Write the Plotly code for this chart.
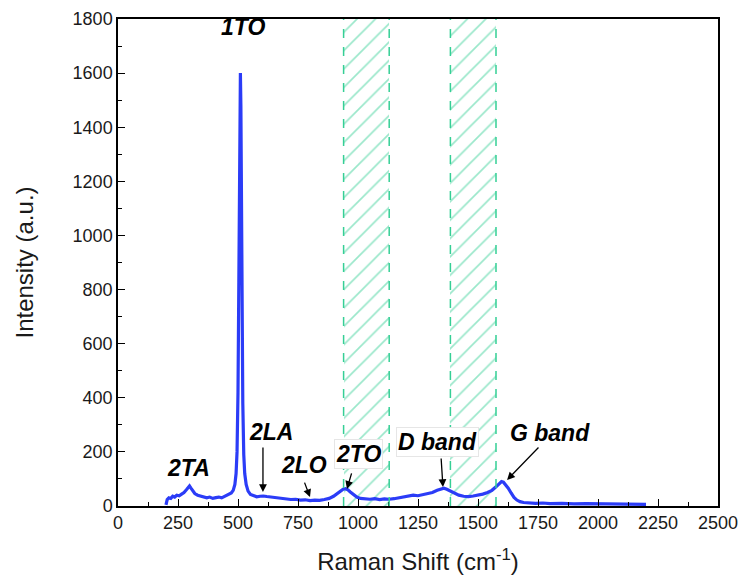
import plotly.graph_objects as go

# Spectrum values
raman_shift = [200, 205, 212, 220, 228, 236, 245, 255, 265, 275, 285, 292, 298, 304, 312, 320, 332, 345, 358, 370,
               382, 395, 408, 420, 432, 444, 455, 464, 472, 480, 487, 492, 496, 500, 503, 506, 508, 510, 512, 514,
               517, 520, 524, 528, 534, 542, 552, 565, 578, 592, 605, 620, 640, 660, 680, 700, 720, 740, 760, 780,
               800, 820, 840, 860, 880, 898, 912, 926, 938, 948, 958, 968, 980, 995, 1010, 1030, 1050, 1070, 1090, 1110,
               1130, 1150, 1170, 1190, 1210, 1230, 1250, 1270, 1290, 1310, 1330, 1345, 1358, 1370, 1385, 1400, 1420, 1440, 1460, 1480,
               1500, 1520, 1540, 1558, 1574, 1588, 1598, 1606, 1615, 1626, 1638, 1650, 1662, 1675, 1690, 1710, 1740, 1770, 1800, 1850,
               1900, 1950, 2000, 2050, 2100, 2150, 2200]
intensity = [4, 24, 30, 28, 36, 33, 40, 38, 44, 50, 60, 70, 74, 66, 55, 46, 40, 36, 32, 30,
             33, 28, 31, 33, 30, 35, 38, 42, 48, 58, 80, 120, 200, 420, 820, 1250, 1500, 1600, 1480, 1150,
             700, 380, 190, 120, 80, 55, 43, 38, 34, 36, 37, 35, 33, 30, 28, 26, 24, 25, 22, 23,
             20, 22, 21, 24, 28, 36, 46, 56, 62, 64, 60, 52, 42, 33, 28, 26, 25, 27, 24, 26,
             25, 27, 30, 33, 37, 40, 38, 42, 45, 50, 58, 64, 66, 62, 55, 46, 40, 36, 35, 37,
             40, 44, 50, 58, 70, 84, 90, 88, 80, 66, 48, 32, 22, 16, 13, 11, 10, 11, 9, 10,
             8, 9, 8, 7, 8, 6, 6]

# Hatched regions (start, end)
hatch_start = [940, 1385]
hatch_end = [1130, 1575]

# Peak labels: text, text position, arrow head, arrow tail
label_text = ["1TO", "2TA", "2LA", "2LO", "2TO", "D band", "G band"]
label_x = [521, 292, 637, 775, 1000, 1330, 1800]
label_y = [1770, 140, 272, 150, 194, 236, 270]
arrow_head_x = [None, None, 604, 800, 954, 1354, 1621]
arrow_head_y = [None, None, 52, 33, 63, 70, 96]
arrow_tail_x = [None, None, 604, 775, 975, 1346, 1758]
arrow_tail_y = [None, None, 222, 92, 126, 181, 222]
boxed = [False, False, False, False, True, True, False]

green = "#35cf95"
font_family = "Arial, Liberation Sans"

fig = go.Figure()

for s, e in zip(hatch_start, hatch_end):
    fig.add_trace(go.Bar(
        x=[(s + e) / 2], y=[1800], width=[e - s], base=0,
        marker=dict(color="rgba(0,0,0,0)", line=dict(width=0),
                    pattern=dict(shape="/", fgcolor=green, bgcolor="rgba(0,0,0,0)",
                                 size=13, solidity=0.13, fillmode="overlay")),
        showlegend=False, hoverinfo="skip"))
    for xv in (s, e):
        fig.add_shape(type="line", x0=xv, x1=xv, y0=0, y1=1800, xref="x", yref="y",
                      line=dict(color=green, width=1.5, dash="dash"))

fig.add_trace(go.Scatter(x=raman_shift, y=intensity, mode="lines",
                         line=dict(color="#2b3cf7", width=3.2), showlegend=False))

for i, t in enumerate(label_text):
    fig.add_annotation(x=label_x[i], y=label_y[i], text="<b><i>" + t + "</i></b>", showarrow=False,
                       font=dict(family=font_family, size=23, color="black"),
                       bgcolor="white" if boxed[i] else None,
                       bordercolor="#e6e6e6" if boxed[i] else None, borderwidth=1 if boxed[i] else 0,
                       borderpad=1)
    if arrow_head_x[i] is not None:
        fig.add_annotation(x=arrow_head_x[i], y=arrow_head_y[i], ax=arrow_tail_x[i], ay=arrow_tail_y[i],
                           axref="x", ayref="y", xref="x", yref="y", text="", showarrow=True,
                           arrowhead=2, arrowsize=1.2, arrowwidth=1.3, arrowcolor="black")

axis_font = dict(family=font_family, size=18, color="#1a1a1a")
title_font = dict(family=font_family, size=24, color="#1a1a1a")
fig.update_layout(
    width=743, height=579,
    margin=dict(l=118, r=25, t=19, b=73),
    plot_bgcolor="white", paper_bgcolor="white",
    bargap=0,
    xaxis=dict(range=[0, 2500], dtick=250, tick0=0, showgrid=False, zeroline=False,
               showline=True, linecolor="black", linewidth=1.5, mirror=True, automargin=False,
               ticks="inside", ticklen=7, tickwidth=1.3, tickcolor="black",
               minor=dict(ticks="inside", ticklen=4, dtick=125, tickcolor="black", tickwidth=1.2),
               tickfont=axis_font,
               title=dict(text="Raman Shift (cm<sup>-1</sup>)", font=title_font, standoff=21)),
    yaxis=dict(range=[0, 1800], dtick=200, tick0=0, showgrid=False, zeroline=False,
               showline=True, linecolor="black", linewidth=1.5, mirror=True, automargin=False,
               ticks="inside", ticklen=7, tickwidth=1.3, tickcolor="black",
               minor=dict(ticks="inside", ticklen=4, dtick=100, tickcolor="black", tickwidth=1.2),
               tickfont=axis_font,
               title=dict(text="Intensity (a.u.)", font=title_font, standoff=32)),
)

fig.write_html("out.html")
